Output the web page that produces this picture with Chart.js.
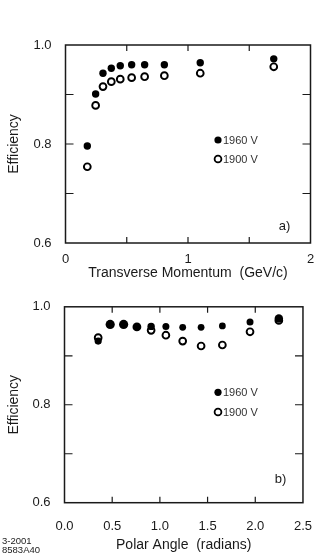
<!DOCTYPE html>
<html><head><meta charset="utf-8">
<script src="https://cdn.jsdelivr.net/npm/chart.js@4/dist/chart.umd.min.js"></script>
<style>
html,body{margin:0;padding:0;background:#fff;width:328px;height:557px;overflow:hidden}
.c{position:absolute;left:0;width:328px}
#w1{top:0;height:285px}
#w2{top:285px;height:272px}
</style></head><body>
<div class="c" id="w1"><canvas id="c1"></canvas></div>
<div class="c" id="w2"><canvas id="c2"></canvas></div>
<script>
// ---- data ----
const momentum   = [0.178,0.246,0.306,0.374,0.447,0.540,0.646,0.807,1.10,1.70];
const momEff1960 = [0.796,0.901,0.943,0.953,0.958,0.960,0.960,0.960,0.964,0.972];
const momEff1900 = [0.754,0.878,0.916,0.926,0.931,0.934,0.936,0.938,0.943,0.956];
const angle1960  = [0.353,0.479,0.620,0.759,0.908,1.063,1.239,1.432,1.655,1.945,2.247];
const angEff1960 = [0.930,0.964,0.964,0.959,0.960,0.960,0.958,0.958,0.961,0.969,0.976];
const angle1900  = [0.353,0.908,1.063,1.239,1.432,1.655,1.945,2.247];
const angEff1900 = [0.937,0.952,0.942,0.930,0.920,0.922,0.949,0.972];
const seriesLabels = ['1960 V','1900 V'];
const yTickValues = [0.6,0.7,0.8,0.9,1.0];
const yTickLabels = ['0.6','','0.8','','1.0'];
const xTopTickValues = [0,0.5,1,1.5,2];
const xTopTickLabels = ['0','','1','','2'];
const xBotTickValues = [0,0.5,1,1.5,2,2.5];
const xBotTickLabels = ['0.0','0.5','1.0','1.5','2.0','2.5'];
const panelTags = ['a)','b)'];
const footer = ['3-2001','8583A40'];

const FONT = '"Liberation Sans", Arial, Helvetica, sans-serif';
const INK = '#1a1a1a';

function pts(xs, ys){ return xs.map((x,i)=>({x:x,y:ys[i]})); }

function framePlugin(tag, legendPos, tagPos, extra){
  return {
    id:'frame',
    beforeDatasetsDraw(chart){
      const {ctx, chartArea:a, scales} = chart;
      ctx.save();
      ctx.strokeStyle = INK; ctx.lineWidth = 1.5;
      ctx.strokeRect(a.left, a.top, a.right-a.left, a.bottom-a.top);
      ctx.lineWidth = 1.2;
      ctx.beginPath();
      scales.x.ticks.forEach(t=>{
        const px = scales.x.getPixelForValue(t.value);
        if (px <= a.left+1 || px >= a.right-1) return;
        ctx.moveTo(px, a.bottom); ctx.lineTo(px, a.bottom-6);
        ctx.moveTo(px, a.top); ctx.lineTo(px, a.top+6);
      });
      scales.y.ticks.forEach(t=>{
        const py = scales.y.getPixelForValue(t.value);
        if (py <= a.top+1 || py >= a.bottom-1) return;
        ctx.moveTo(a.left, py); ctx.lineTo(a.left+8, py);
        ctx.moveTo(a.right, py); ctx.lineTo(a.right-8, py);
      });
      ctx.stroke();
      ctx.restore();
    },
    afterDatasetsDraw(chart){
      const {ctx, chartArea:a} = chart;
      ctx.save();
      // legend
      const ds = chart.data.datasets;
      ds.forEach((d,i)=>{
        const cx = a.left + legendPos.x, cy = a.top + legendPos.y + i*legendPos.dy;
        ctx.beginPath();
        ctx.arc(cx, cy, d.legendR, 0, Math.PI*2);
        if (d.hollow){ ctx.fillStyle='#fff'; ctx.fill(); ctx.lineWidth=1.8; ctx.strokeStyle='#000'; ctx.stroke(); }
        else { ctx.fillStyle='#000'; ctx.fill(); }
        ctx.fillStyle = '#333';
        ctx.font = '11px ' + FONT;
        ctx.textBaseline = 'middle'; ctx.textAlign='left';
        ctx.fillText(d.label, cx + 5, cy + 0.5);
      });
      ctx.fillStyle = INK;
      ctx.font = '13px ' + FONT;
      ctx.textAlign = 'center'; ctx.textBaseline='middle';
      ctx.fillText(tag, a.left + tagPos.x, a.top + tagPos.y);
      if (extra){
        ctx.font = '9.5px ' + FONT; ctx.textAlign='left'; ctx.fillStyle='#222';
        extra.forEach((s,i)=> ctx.fillText(s, 2, chart.height - 16 + i*9));
      }
      ctx.restore();
    }
  };
}

function makeChart(id, cfg){
  const yScale = {
    type:'linear', min:0.6, max:1.0,
    afterBuildTicks(s){ s.ticks = yTickValues.map(v=>({value:v})); },
    afterFit(s){ s.width = cfg.left; },
    grid:{display:false, drawTicks:false},
    border:{display:false},
    ticks:{ padding:14, color:INK, font:{family:FONT, size:13},
      callback:(v,i)=>yTickLabels[i] },
    title:{display:true, text:'Efficiency', color:INK, font:{family:FONT,size:14}, padding:{top:6,bottom:0}}
  };
  const xScale = {
    type:'linear', min:cfg.xmin, max:cfg.xmax,
    afterBuildTicks(s){ s.ticks = cfg.xTicks.map(v=>({value:v})); },
    afterFit(s){ s.height = cfg.bottomH; },
    grid:{display:false, drawTicks:false},
    border:{display:false},
    ticks:{ padding:cfg.xPad, color:INK, font:{family:FONT, size:13}, maxRotation:0, autoSkip:false,
      callback:(v,i)=>cfg.xLabels[i] },
    title:{display:true, text:cfg.xTitle, color:INK, font:{family:FONT,size:14}, padding:{top:0,bottom:cfg.titlePad}}
  };
  return new Chart(document.getElementById(id), {
    type:'scatter',
    data:{datasets:[
      {label:seriesLabels[0], data:pts(cfg.x1,cfg.y1), pointRadius:cfg.r1, pointBackgroundColor:'#000',
       pointBorderWidth:0, pointBorderColor:'#000', legendR:3.6, hollow:false},
      {label:seriesLabels[1], data:pts(cfg.x2,cfg.y2), pointRadius:3.4, pointBackgroundColor:'#fff',
       pointBorderWidth:1.9, pointBorderColor:'#000', legendR:3.4, hollow:true}
    ]},
    options:{
      responsive:true, maintainAspectRatio:false, animation:false, devicePixelRatio:1,
      layout:{padding:{top:cfg.top, right:cfg.right, left:0, bottom:0}},
      plugins:{legend:{display:false}, tooltip:{enabled:false}},
      scales:{x:xScale, y:yScale}
    },
    plugins:[framePlugin(cfg.tag, cfg.legendPos, cfg.tagPos, cfg.extra)]
  });
}

makeChart('c1', {
  xmin:0, xmax:2, xTicks:xTopTickValues, xLabels:xTopTickLabels,
  xTitle:'Transverse Momentum  (GeV/c)',
  left:65.5, right:17.5, top:45, bottomH:42, xPad:9, titlePad:3,
  x1:momentum, y1:momEff1960, x2:momentum, y2:momEff1900, r1:3.7,
  tag:panelTags[0], legendPos:{x:152.5, y:95, dy:19}, tagPos:{x:219, y:181}
});
makeChart('c2', {
  xmin:0, xmax:2.5, xTicks:xBotTickValues, xLabels:xBotTickLabels,
  xTitle:'Polar Angle  (radians)',
  left:64.5, right:17, top:20.5, bottomH:54.3, xPad:16, titlePad:3,
  x1:angle1960, y1:angEff1960, x2:angle1900, y2:angEff1900,
  r1:[3.6,4.6,4.6,4.4,3.7,3.5,3.4,3.4,3.4,3.5,4.2],
  tag:panelTags[1], legendPos:{x:153.5, y:85.5, dy:19.7}, tagPos:{x:216, y:172.5},
  extra:footer
});
</script>
</body></html>
